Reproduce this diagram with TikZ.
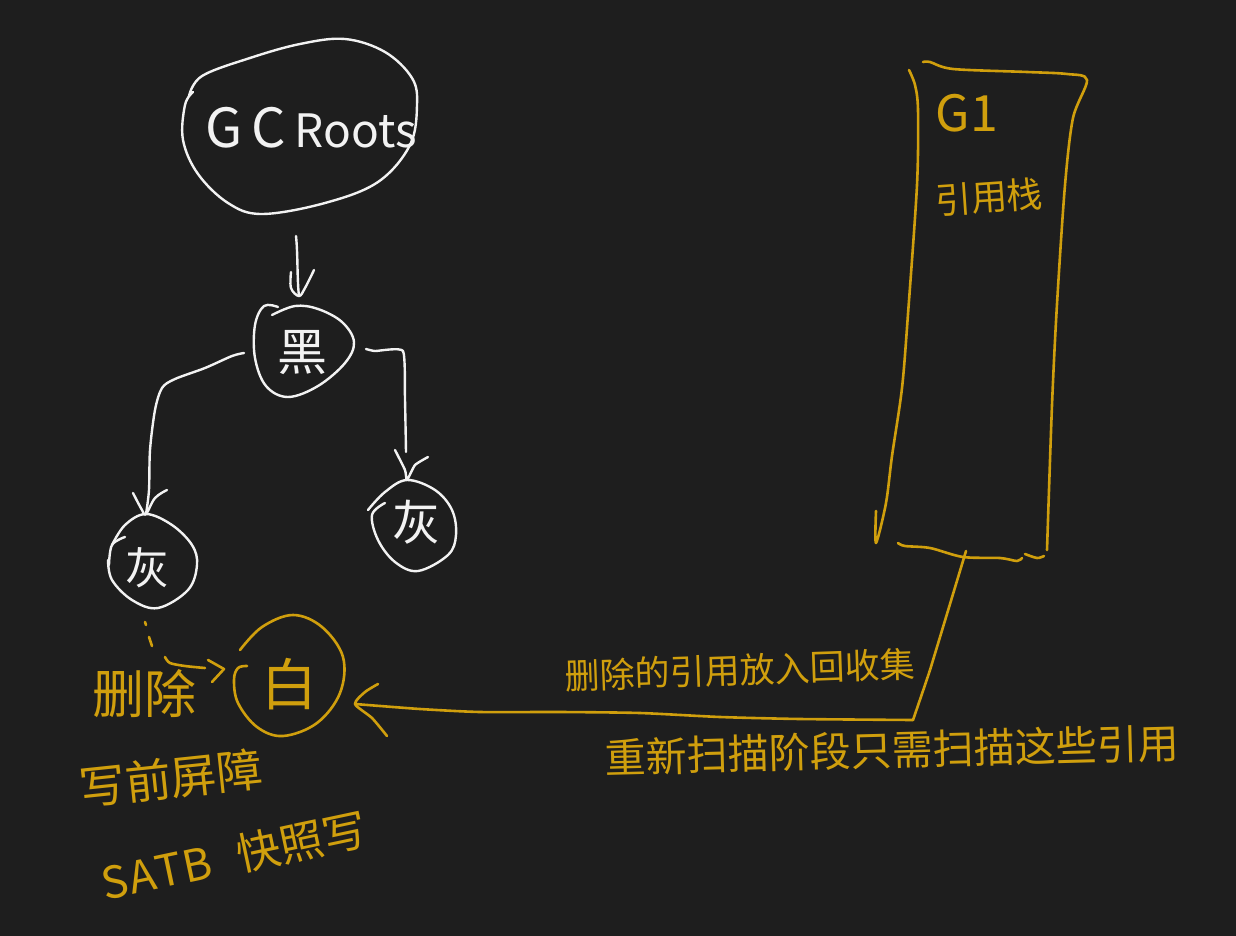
\documentclass[tikz,border=0pt]{standalone}
\usepackage{fontspec}
\setmainfont{Noto Sans CJK SC}
\definecolor{bgc}{HTML}{1E1E1E}
\definecolor{ink}{HTML}{F2F2F2}
\definecolor{gold}{HTML}{D09F0D}
\tikzset{
  wstroke/.style={draw=ink,line width=2.4pt,line cap=round,line join=round},
  gstroke/.style={draw=gold,line width=2.6pt,line cap=round,line join=round},
  wtext/.style={text=ink,inner sep=0pt},
  gtext/.style={text=gold,inner sep=0pt},
}
\newcommand{\fs}[1]{\fontsize{#1}{#1}\selectfont}
\begin{document}
\begin{tikzpicture}[x=1pt,y=-1pt]
\path[use as bounding box,fill=bgc] (0,0) rectangle (1236,936);

% named anchors
\coordinate (rootOut) at (296,236);
\coordinate (blackIn) at (299,296);
\coordinate (blackL) at (244,353);
\coordinate (grayLIn) at (146,514);
\coordinate (blackR) at (366,349);
\coordinate (grayRIn) at (407,480);
\coordinate (grayLOut) at (145,622);
\coordinate (whiteIn) at (224,669);
\coordinate (stackOut) at (966,551);
\coordinate (whiteR) at (355,704);

% GC Roots
\draw[wstroke] plot[smooth,tension=.6] coordinates {(189,96)(202,76)(250,58)(300,44)(345,39)(385,52)(412,78)(417,105)(410,145)(378,182)(325,203)(262,214)(228,203)(198,174)(183,140)(185,105)(193,92)};
\node[wtext,font=\fs{54}] (roots) at (311,128) {G\hspace{9pt}C\hspace{9pt}\fontsize{46}{46}\selectfont Roots};

% Root to black
\draw[wstroke] (rootOut) .. controls (298,255) and (297,280) .. (blackIn);
\draw[wstroke] plot[smooth,tension=.6] coordinates {(291,272)(291,288)(blackIn)(305,288)(314,270)};

% black
\draw[wstroke] plot[smooth,tension=.6] coordinates {(278,307)(264,306)(255,325)(255,358)(266,386)(288,397)(318,386)(345,363)(354,342)(342,322)(318,309)(295,306)(272,315)};
\node[wtext,font=\fs{50}] (black) at (302,353) {黑};

% black to left gray
\draw[wstroke] plot[smooth,tension=.5] coordinates {(blackL)(232,356)(205,368)(175,379)(162,388)(155,410)(150,450)(149,490)(grayLIn)};
\draw[wstroke] plot[smooth,tension=.6] coordinates {(133,493)(142,510)(146,514)(155,498)(167,490)};

% black to right gray
\draw[wstroke] plot[smooth,tension=.3] coordinates {(blackR)(375,351)(403,351)(405,400)(406,452)};
\draw[wstroke] plot[smooth,tension=.3] coordinates {(395,450)(405,470)(grayRIn)(415,465)(428,457)};

% left gray
\draw[wstroke] plot[smooth,tension=.6] coordinates {(109,565)(112,545)(125,537)} ;
\draw[wstroke] plot[smooth,tension=.6] coordinates {(112,545)(125,525)(grayLIn)(172,525)(192,545)(197,565)(188,590)(158,608)(132,600)(112,580)(108,560)};
\node[wtext,font=\fs{44}] (grayL) at (147,568) {灰};

% right gray
\draw[wstroke] plot[smooth,tension=.6] coordinates {(368,510)(385,492)(grayRIn)(435,490)(452,510)(456,535)(448,555)(418,571)(395,562)(378,540)(372,515)(385,503)};
\node[wtext,font=\fs{48}] (grayR) at (416,522) {灰};

% dashed delete
\draw[gstroke] (grayLOut) -- ++(1,3);
\draw[gstroke] (149,637) -- (152,646);
\draw[gstroke] plot[smooth] coordinates {(165,657)(170,663)(185,666)(205,668)};
\draw[gstroke] plot coordinates {(208,660)(whiteIn)(212,682)};
\node[gtext,font=\fs{52}] (del) at (144,694) {删除};

% white
\draw[gstroke] plot[smooth,tension=.6] coordinates {(240,650)(262,627)(293,615)(322,627)(343,657)(340,693)(317,723)(283,736)(257,727)(238,703)(234,680)(238,668)(247,666)};
\node[gtext,font=\fs{56}] (white) at (289,684) {白};

% barrier texts
\node[gtext,font=\fs{46},rotate=6] (barrier) at (171,778) {写前屏障};
\node[gtext,font=\fs{44},rotate=12] (satb) at (234,856) {S\hspace{1pt}A\hspace{1pt}T\hspace{1pt}B\hspace{26pt}快照写};

% G1 stack
\draw[gstroke] plot[smooth,tension=.5] coordinates {(909,70)(915,85)(918,110)(917,185)(908,314)(902,388)(892,456)(886,503)(876,543)(876,511)};
\draw[gstroke] plot[smooth,tension=.5] coordinates {(923,62)(930,62)(953,69)(1027,72)(1067,74)(1087,80)(1073,118)(1065,185)(1057,304)(1052,405)(1047,550)};
\draw[gstroke] plot[smooth,tension=.5] coordinates {(898,543)(905,546)(930,548)(963,557)(1000,558)(1017,561)(1022,558)};
\draw[gstroke] plot[smooth,tension=.5] coordinates {(1025,554)(1037,558)(1044,556)};
\node[gtext,font=\fs{50}] (g1) at (967,113) {G1};
\node[gtext,font=\fs{36},rotate=4] (stack) at (989,197) {引用栈};

% stack to white
\draw[gstroke] plot[smooth,tension=.15] coordinates {(stackOut)(930,670)(913,720)};
\draw[gstroke] plot[smooth,tension=.4] coordinates {(913,720)(800,719)(720,717)(640,713)(560,712)(480,712)(420,709)(whiteR)};
\draw[gstroke] plot[smooth,tension=.4] coordinates {(378,684)(365,692)(whiteR)(372,718)(387,736)};

\node[gtext,font=\fs{35},rotate=2] (drop) at (740,670) {删除的引用放入回收集};
\node[gtext,font=\fs{41},rotate=1.5] (rescan) at (892,750) {重新扫描阶段只需扫描这些引用};
\end{tikzpicture}
\end{document}
